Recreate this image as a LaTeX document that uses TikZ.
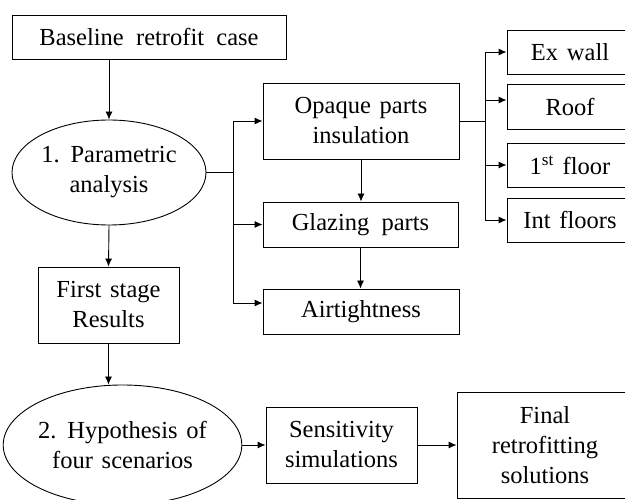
\documentclass[tikz,border=0pt]{standalone}
\usepackage{fontspec}
\setmainfont{Liberation Serif}
\usetikzlibrary{shapes.geometric,arrows.meta}
\newcommand\diagfont{\fontsize{24.5}{30}\selectfont\setlength{\spaceskip}{0.36em plus 0.1em}}
\begin{document}
\begin{tikzpicture}[x=1pt,y=-1pt,
  txt/.style={inner sep=0pt, align=center, line width=0.9pt, font=\diagfont},
  box/.style={txt, draw, rectangle},
  oval/.style={txt, draw, ellipse},
  arr/.style={draw, line width=0.9pt, -{Latex[length=8pt,width=7pt]}},
  ln/.style={draw, line width=0.9pt}]
\useasboundingbox (0,0) rectangle (625,500);
\fill[white] (0,0) rectangle (625,500);
% nodes
\node[box, minimum width=274pt, minimum height=44pt] (base) at (149,37) {Baseline\hspace{0.5em}retrofit\hspace{0.5em}case};
\node[oval, minimum width=194pt, minimum height=105pt] (p1) at (109,172.5) {1. Parametric\\analysis};
\node[box, minimum width=196pt, minimum height=76pt] (opaque) at (361,121) {Opaque parts\\insulation};
\node[box, minimum width=195pt, minimum height=45pt] (glaze) at (360.5,224.5) {Glazing\hspace{0.5em}parts};
\node[box, minimum width=196pt, minimum height=45pt] (air) at (361,311.5) {Airtightness};
\node[box, minimum width=126pt, minimum height=44pt] (exwall) at (570,52) {Ex wall};
\node[box, minimum width=126pt, minimum height=45pt] (roof) at (570,106.5) {Roof};
\node[box, minimum width=126pt, minimum height=44pt] (floor1) at (570,165) {1\textsuperscript{st} floor};
\node[box, minimum width=126pt, minimum height=44pt] (intf) at (570,220) {Int floors};
\node[box, minimum width=141pt, minimum height=76pt] (first) at (108.5,305) {First stage\\Results};
\node[oval, minimum width=221pt, minimum height=120pt] (p2) at (122.5,445) {2. Hypothesis of\\four scenarios};
\node[box, minimum width=151pt, minimum height=76pt] (sens) at (341.5,445) {Sensitivity\\simulations};
\node[box, minimum width=176pt, minimum height=106pt] (final) at (545,445) {Final\\retrofitting\\solutions};
\coordinate (br1) at (233,172.5);
\coordinate (br2) at (485,121);
% connectors
\draw[arr] (p1.north |- base.south) -- (p1.north);
\draw[ln] (p1.east) -- (br1);
\draw[arr] (br1) |- (opaque.west);
\draw[arr] (br1) |- (glaze.west);
\draw[arr] (br1) |- ([yshift=8.5pt]air.west);
\draw[arr] (opaque.south) -- (opaque.south |- glaze.north);
\draw[arr] (glaze.south) -- (glaze.south |- air.north);
\draw[ln] (opaque.east) -- (br2);
\draw[arr] (br2) |- (exwall.west);
\draw[arr] (br2) |- ([yshift=6.5pt]roof.west);
\draw[arr] (br2) |- (floor1.west);
\draw[arr] (br2) |- (intf.west);
\draw[arr] (p1.south) -- (first.north);
\draw[arr] (first.south) -- (first.south |- p2.north);
\draw[arr] (p2.east) -- (sens.west);
\draw[arr] (sens.east) -- (final.west);
\end{tikzpicture}
\end{document}
